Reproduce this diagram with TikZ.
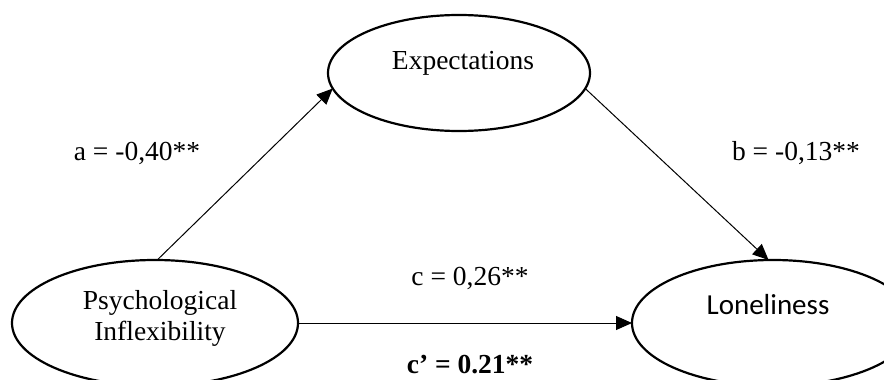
\documentclass[tikz,border=0pt]{standalone}
\usepackage{fontspec}
\setmainfont{Liberation Serif}
\newfontfamily\calfont{Carlito}
\usetikzlibrary{arrows.meta,shapes.geometric}
\begin{document}
\begin{tikzpicture}[x=1pt,y=-1pt,
  oval/.style={ellipse,draw,line width=2.2pt,inner sep=0pt,outer sep=0pt},
  txt/.style={font=\fontsize{27.5}{31}\selectfont,inner sep=0pt,align=center},
  conn/.style={line width=1pt,-{Triangle[length=16pt,width=14pt]}}]
\useasboundingbox (0,0) rectangle (884,380);
\node[oval,minimum width=286pt,minimum height=126pt] (pi) at (155,323) {};
\node[oval,minimum width=282pt,minimum height=126pt] (lo) at (773,323) {};
\node[oval,minimum width=262pt,minimum height=116pt] (ex) at (459,73) {};
\node[txt] (pit) at (160,318) {Psychological\\Inflexibility};
\node[txt,font=\calfont\fontsize{29}{33}\selectfont] (lot) at (768,305) {Loneliness};
\node[txt] (ext) at (463,63) {Expectations};
\node[txt] (la) at (137,153) {a = -0,40**};
\node[txt] (lb) at (796,153) {b = -0,13**};
\node[txt] (lc) at (470,278) {c = 0,26**};
\node[txt,font=\bfseries\fontsize{27.5}{31}\selectfont] (lcp) at (470,365) {c’ = 0.21**};
\draw[conn] (pi.88) -- (ex.187);
\draw[conn] (ex.353) -- (lo.94);
\draw[conn] (pi.east) -- (lo.west);
\end{tikzpicture}
\end{document}
